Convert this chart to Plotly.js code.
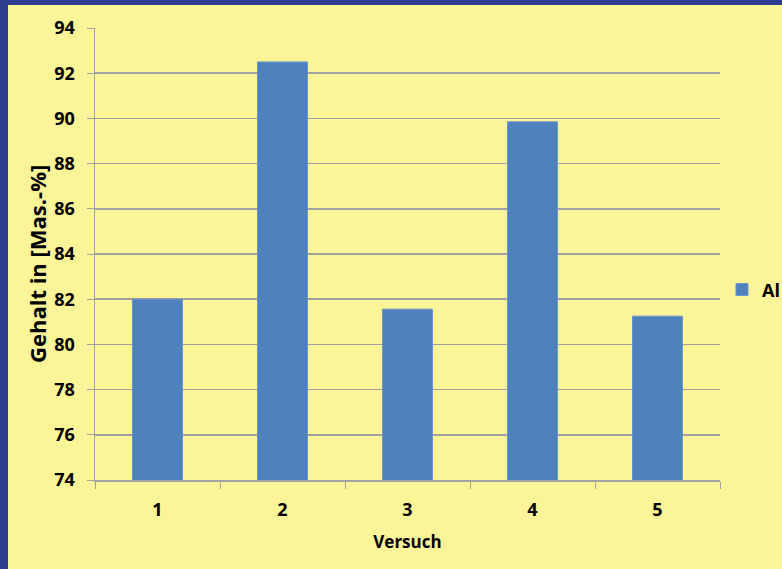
<!DOCTYPE html>
<html>
<head>
<meta charset="utf-8">
<script src="https://cdn.plot.ly/plotly-3.0.1.min.js"></script>
<style>
html,body{margin:0;padding:0;background:#2E3D8E;width:782px;height:569px;overflow:hidden;}
#chart{position:absolute;left:8px;top:5px;width:774px;height:564px;}
</style>
</head>
<body>
<div id="chart"></div>
<script>
const categories = ["1", "2", "3", "4", "5"];
const alValues = [82.0, 92.5, 81.56, 89.85, 81.25];
const seriesName = "Al";
const xTitle = "Versuch";
const yTitle = "Gehalt in [Mas.-%]";

const fontFam = "'Open Sans', 'DejaVu Sans', sans-serif";

const trace = {
  type: "bar",
  x: categories,
  y: alValues,
  name: seriesName,
  marker: {color: "#4F81BD", line: {color: "#6D96C8", width: 1}},
  showlegend: true
};

const layout = {
  width: 774,
  height: 564,
  margin: {l: 87, r: 62, t: 23, b: 89},
  paper_bgcolor: "#FCF598",
  plot_bgcolor: "#FCF598",
  bargap: 0.6,
  font: {family: fontFam, color: "#000", size: 18, weight: "bold"},
  xaxis: {
    type: "category",
    tickson: "boundaries",
    ticks: "outside",
    ticklen: 7,
    tickcolor: "#A0A0A0",
    showline: true,
    linecolor: "#A0A0A0",
    linewidth: 1.5,
    showgrid: false,
    ticklabelstandoff: 13,
    tickfont: {family: fontFam, size: 18, weight: "bold", color: "#000"},
    title: {text: xTitle, font: {family: fontFam, size: 17, weight: "bold", color: "#000"}, standoff: 16}
  },
  yaxis: {
    range: [74, 94],
    dtick: 2,
    tick0: 74,
    ticks: "outside",
    ticklen: 7,
    tickcolor: "#A0A0A0",
    showline: true,
    linecolor: "#A0A0A0",
    linewidth: 1.5,
    showgrid: true,
    gridcolor: "#A0A0A0",
    gridwidth: 1.5,
    zeroline: false,
    ticklabelstandoff: 8,
    tickfont: {family: fontFam, size: 18, weight: "bold", color: "#000"}
  },
  annotations: [{
    text: yTitle,
    xref: "paper", yref: "paper",
    x: 0, y: 0.5,
    xanchor: "center", yanchor: "middle",
    xshift: -58, yshift: -10,
    textangle: -90,
    showarrow: false,
    font: {family: fontFam, size: 22, weight: "bold", color: "#000"}
  }],
  legend: {
    xref: "container", yref: "container",
    x: 0.9225, xanchor: "left",
    y: 0.495, yanchor: "middle",
    bgcolor: "rgba(0,0,0,0)",
    font: {family: fontFam, size: 18, weight: "bold", color: "#000"}
  }
};

Plotly.newPlot("chart", [trace], layout, {displayModeBar: false, staticPlot: true});
</script>
</body>
</html>
